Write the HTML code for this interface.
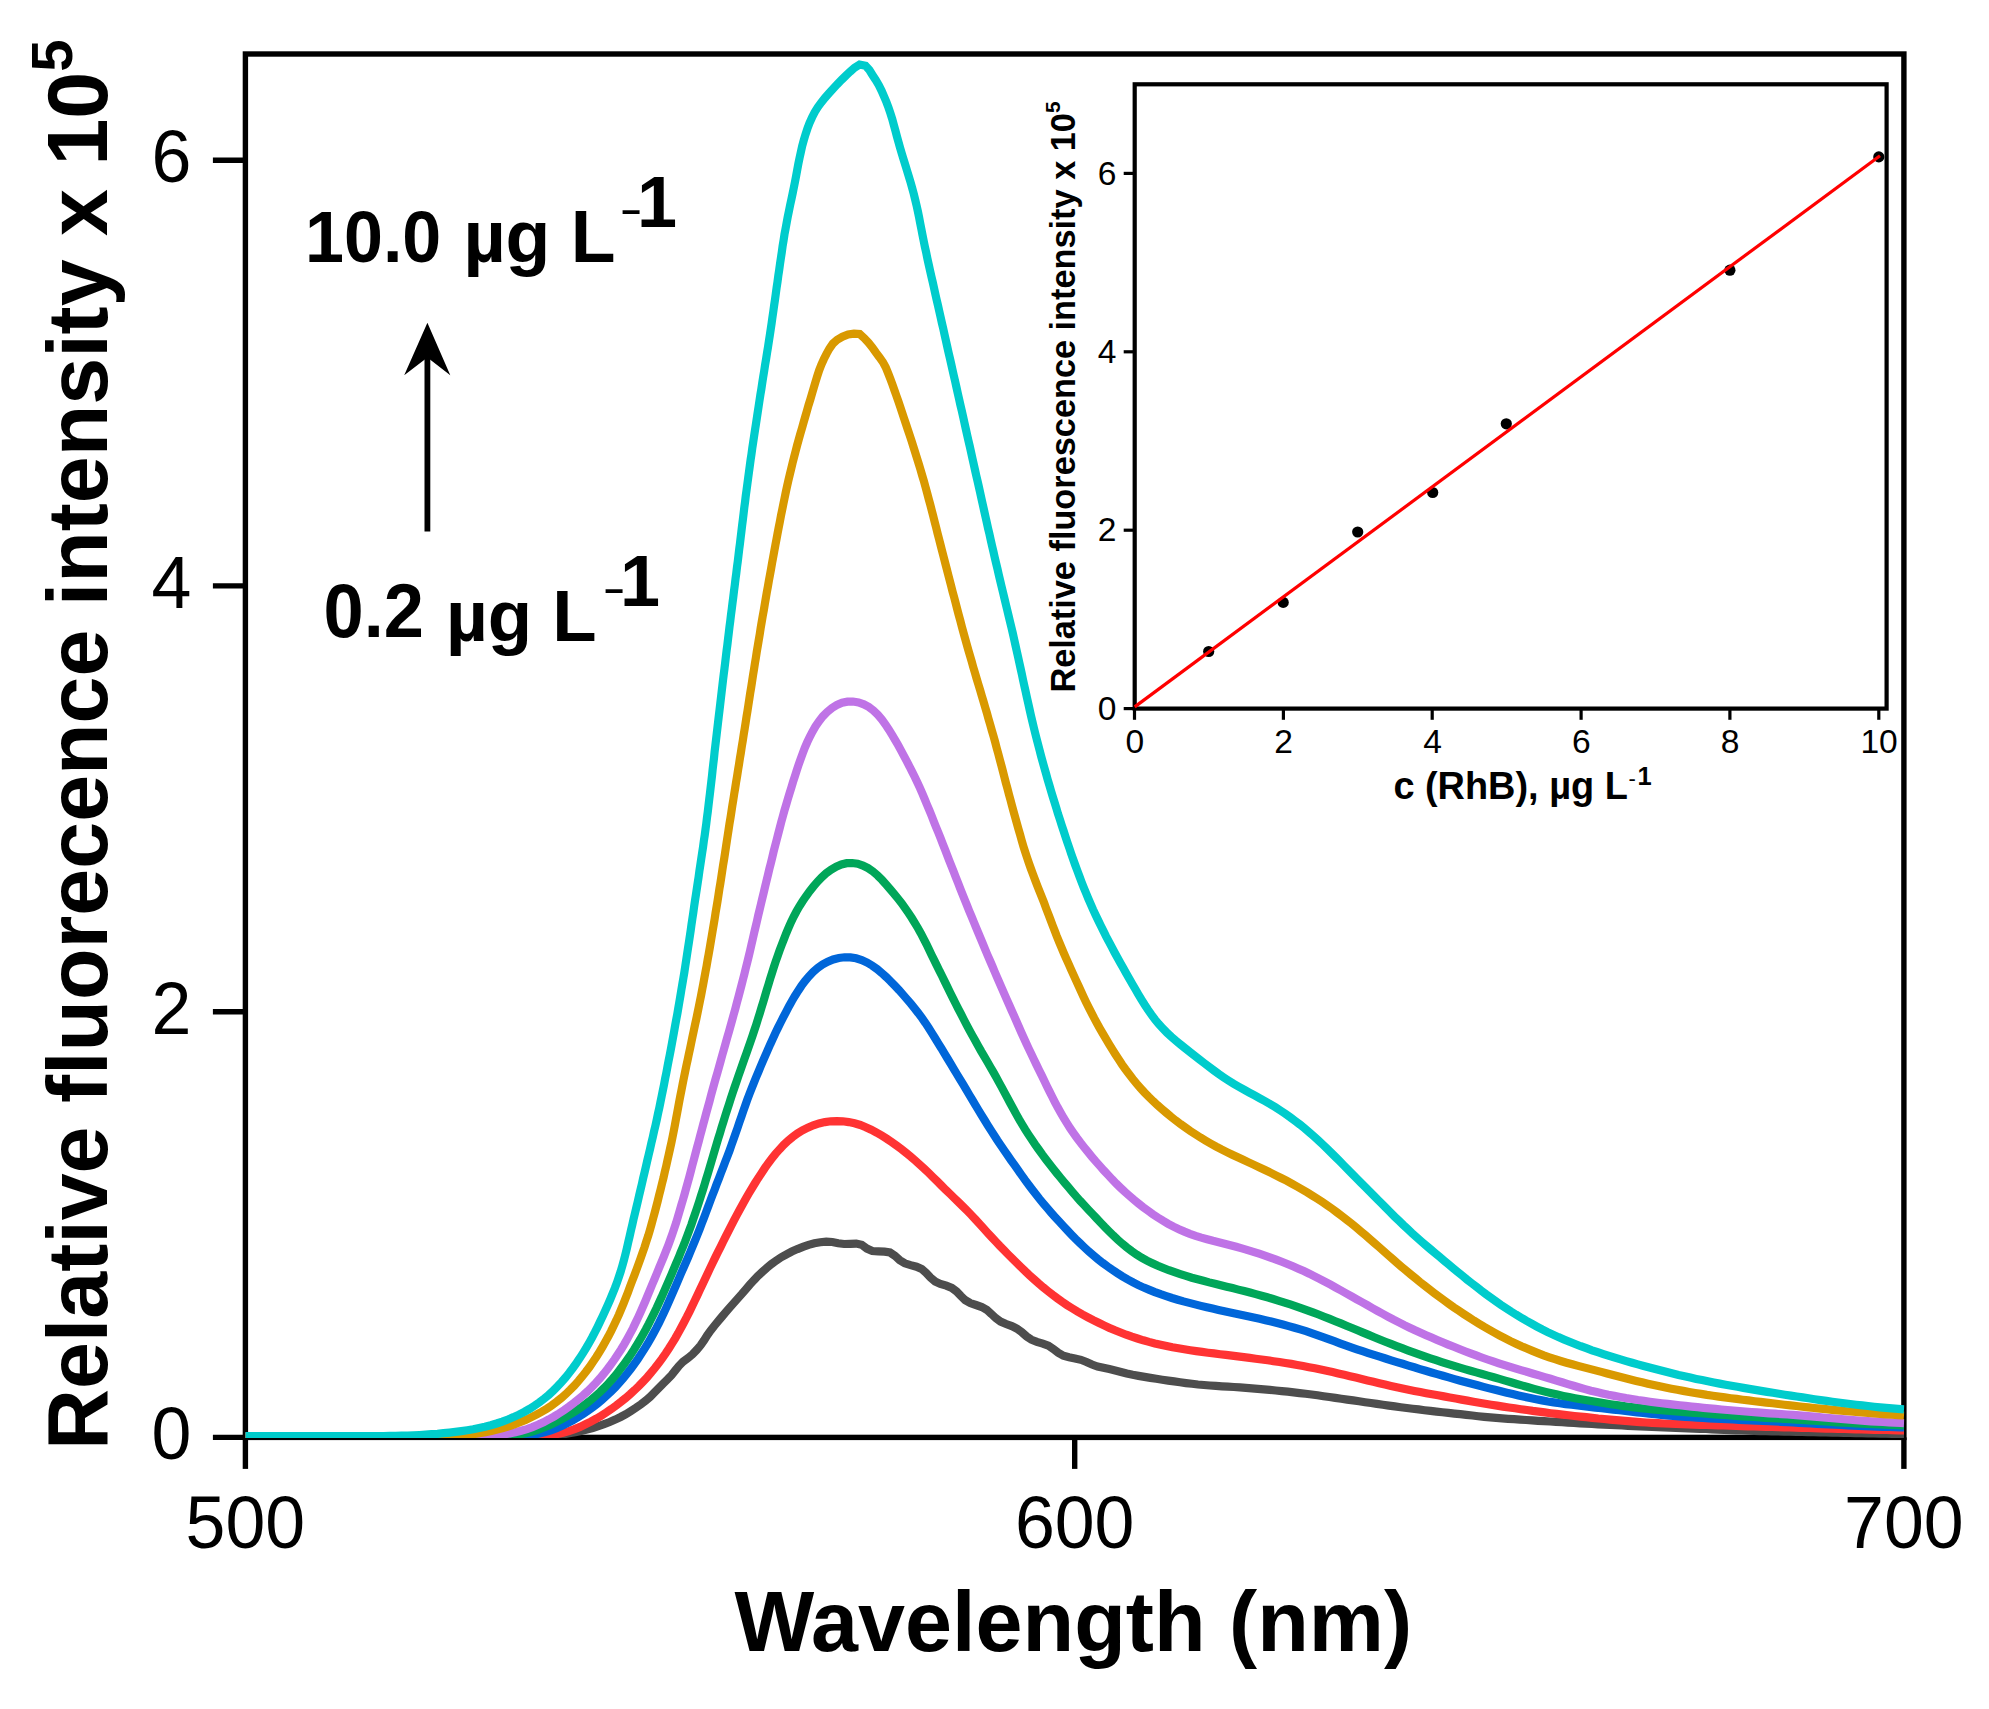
<!DOCTYPE html>
<html lang="en"><head><meta charset="utf-8"><title>Fluorescence spectra of RhB</title>
<style>
html,body{margin:0;padding:0;background:#fff;}
body{width:1989px;height:1709px;overflow:hidden;}
svg{display:block;}
text{font-family:"Liberation Sans", Arial, Helvetica, sans-serif;fill:#000;}
.b{font-weight:700;}
.c{fill:none;stroke-width:8.2;stroke-linejoin:miter;stroke-miterlimit:3;stroke-linecap:butt;}
.ax{stroke:#000;fill:none;}
</style></head><body>
<svg width="1989" height="1709" viewBox="0 0 1989 1709">
<rect width="1989" height="1709" fill="#fff"/>
<g class="ax" stroke-width="5.4">
<rect x="245.4" y="54.0" width="1658.5" height="1383.4"/>
<line x1="212.9" y1="1437.4" x2="245.4" y2="1437.4"/>
<line x1="212.9" y1="1011.7" x2="245.4" y2="1011.7"/>
<line x1="212.9" y1="585.9" x2="245.4" y2="585.9"/>
<line x1="212.9" y1="160.2" x2="245.4" y2="160.2"/>
<line x1="245.4" y1="1437.4" x2="245.4" y2="1468.9"/>
<line x1="1074.7" y1="1437.4" x2="1074.7" y2="1468.9"/>
<line x1="1903.9" y1="1437.4" x2="1903.9" y2="1468.9"/>
</g>
<clipPath id="pc"><rect x="245.4" y="54.0" width="1659.1" height="1384.0"/></clipPath>
<g clip-path="url(#pc)">
<path class="c" stroke="#4d4d4d" d="M245.4 1436.8L251.5 1436.8L257.5 1436.8L263.6 1436.8L269.6 1436.8L275.6 1436.8L281.7 1436.8L287.7 1436.8L293.8 1436.8L299.8 1436.8L305.8 1436.8L311.9 1436.8L317.9 1436.8L323.9 1436.8L329.9 1436.8L335.9 1436.8L342 1436.8L348 1436.8L354 1436.8L360 1436.8L366 1436.8L372 1436.8L378 1436.8L384 1436.8L390 1436.8L396 1436.8L402 1436.8L408 1436.8L414 1436.8L420 1436.8L426 1436.8L432 1436.8L438 1436.8L444 1436.8L450 1436.8L455.9 1436.8L461.9 1436.8L467.9 1436.8L473.9 1436.8L479.9 1436.8L485.8 1436.8L491.8 1436.8L497.8 1436.8L503.8 1436.8L509.7 1436.8L515.7 1436.8L521.7 1436.8L527.6 1436.8L533.6 1436.8L539.6 1436.8L545.6 1436.8L551.5 1436.4L557.5 1435.4L563.4 1434.3L569.3 1433.3L575.2 1432.2L581.1 1431L586.9 1429.6L592.7 1428L598.4 1426.1L604.1 1424.1L609.7 1422L615.2 1419.6L620.6 1417L625.9 1414.2L631 1411L636.1 1407.7L641 1404.3L645.8 1400.6L650.3 1396.7L654.5 1392.4L658.7 1388.1L662.9 1383.8L667.2 1379.6L671.4 1375.3L675.1 1370.6L678.9 1365.9L683.1 1361.7L688 1358.1L692.5 1354.3L696.7 1349.9L700.6 1345.3L704 1340.4L707.2 1335.3L710.7 1330.4L714.4 1325.7L718.2 1321.1L722.1 1316.5L726 1311.9L729.9 1307.4L733.9 1302.9L737.9 1298.4L741.9 1293.9L745.8 1289.3L749.7 1284.8L753.8 1280.3L757.9 1276L762.3 1271.9L766.8 1267.9L771.4 1264.1L776.3 1260.5L781.3 1257.2L786.5 1254.3L791.8 1251.5L797.4 1249.1L802.9 1246.9L808.6 1244.9L814.4 1243.3L820.3 1242.3L826.3 1241.6L832.3 1242L838.2 1243.3L844.1 1244L850.2 1243.8L856.2 1243.6L861.7 1244.8L866.9 1248.6L872.3 1251L878.3 1251.4L884.5 1251.7L890 1252.5L894.9 1255.8L899.7 1260.1L904.8 1263.3L910.6 1265.1L916.5 1266.7L921.7 1269L926.2 1273L930.5 1277.6L935.1 1281.5L940.4 1283.9L946.3 1285.7L951.8 1287.9L956.5 1291.4L960.8 1295.9L965.2 1300.1L970.2 1303.1L976 1305L981.8 1307L986.8 1309.8L991.3 1313.9L995.8 1318.2L1000.6 1321.6L1006.1 1324L1011.8 1326.1L1017.1 1328.7L1021.9 1332.3L1026.6 1336.4L1031.4 1339.7L1036.9 1341.9L1042.8 1343.6L1048.4 1345.7L1053.4 1349L1058.3 1352.8L1063.4 1355.8L1069 1357.3L1075 1358.4L1080.9 1359.8L1086.5 1362L1092 1364.5L1097.6 1366.5L1103.4 1367.8L1109.3 1369.1L1115.2 1370.5L1121 1372L1126.8 1373.5L1132.7 1374.8L1138.6 1375.9L1144.5 1376.9L1150.4 1377.9L1156.3 1378.8L1162.3 1379.7L1168.2 1380.6L1174.2 1381.4L1180.1 1382.3L1186 1383.1L1192 1383.8L1198 1384.5L1203.9 1385L1209.9 1385.5L1215.9 1385.9L1221.9 1386.3L1227.9 1386.6L1233.9 1387L1239.9 1387.4L1245.9 1387.8L1251.9 1388.3L1257.8 1388.8L1263.8 1389.3L1269.8 1389.9L1275.8 1390.5L1281.7 1391.1L1287.7 1391.7L1293.7 1392.4L1299.6 1393.1L1305.6 1393.8L1311.6 1394.5L1317.5 1395.3L1323.5 1396.2L1329.4 1397L1335.3 1397.9L1341.3 1398.8L1347.2 1399.6L1353.2 1400.4L1359.1 1401.3L1365.1 1402.2L1371 1403L1376.9 1403.9L1382.9 1404.7L1388.8 1405.6L1394.8 1406.4L1400.7 1407.2L1406.7 1408L1412.6 1408.7L1418.6 1409.4L1424.5 1410.2L1430.5 1410.9L1436.5 1411.6L1442.4 1412.3L1448.4 1412.9L1454.4 1413.6L1460.3 1414.2L1466.3 1414.9L1472.3 1415.5L1478.2 1416.2L1484.2 1416.8L1490.2 1417.4L1496.2 1417.9L1502.1 1418.4L1508.1 1418.8L1514.1 1419.2L1520.1 1419.6L1526.1 1420L1532.1 1420.4L1538.1 1420.8L1544.1 1421.1L1550.1 1421.5L1556.1 1421.9L1562.1 1422.2L1568 1422.6L1574 1423L1580 1423.3L1586 1423.6L1592 1424L1598 1424.3L1604 1424.6L1610 1424.9L1616 1425.2L1622 1425.5L1628 1425.8L1634 1426.1L1640 1426.4L1646 1426.6L1652 1426.9L1658 1427.1L1664 1427.4L1670 1427.6L1676 1427.9L1682 1428.1L1688 1428.3L1694 1428.6L1700 1428.8L1706 1429L1712 1429.3L1718 1429.6L1724 1429.8L1730 1430.1L1736 1430.3L1742 1430.5L1748 1430.7L1754 1430.9L1760 1431.1L1766 1431.2L1772 1431.3L1778 1431.4L1784 1431.6L1790 1431.7L1796 1431.8L1802 1431.9L1808 1432.1L1814 1432.2L1820 1432.3L1826 1432.5L1832 1432.6L1838 1432.7L1844 1432.9L1850 1433L1856 1433.1L1862 1433.2L1868 1433.4L1874 1433.5L1880 1433.6L1886 1433.7L1892 1433.8L1898 1433.9L1904 1434"/>
<path class="c" stroke="#ff3333" d="M245.4 1436.5L251.5 1436.5L257.5 1436.5L263.6 1436.5L269.6 1436.5L275.7 1436.5L281.7 1436.5L287.8 1436.5L293.8 1436.5L299.8 1436.5L305.9 1436.5L311.9 1436.5L317.9 1436.5L324 1436.5L330 1436.5L336 1436.5L342 1436.5L348 1436.5L354 1436.5L360 1436.5L366.1 1436.5L372.1 1436.5L378.1 1436.5L384.1 1436.5L390.1 1436.5L396.1 1436.5L402.1 1436.5L408 1436.5L414 1436.5L420 1436.5L426 1436.5L432 1436.5L438 1436.5L444 1436.5L449.9 1436.5L455.9 1436.5L461.9 1436.5L467.9 1436.5L473.8 1436.5L479.8 1436.5L485.8 1436.5L491.7 1436.5L497.7 1436.5L503.7 1436.6L509.6 1436.7L515.6 1436.7L521.6 1436.8L527.6 1436.7L533.5 1436.6L539.5 1436.3L545.5 1435.7L551.4 1435L557.3 1434L563.1 1432.7L568.9 1431.1L574.5 1429.1L580.1 1426.9L585.5 1424.3L590.9 1421.6L596.2 1418.7L601.3 1415.7L606.4 1412.4L611.4 1409L616.2 1405.5L621 1401.8L625.7 1398L630.2 1394.1L634.6 1390.1L639 1385.9L643.1 1381.6L647.2 1377.2L651.1 1372.6L654.9 1368L658.6 1363.2L662.2 1358.4L665.6 1353.5L668.9 1348.5L672.1 1343.4L675.2 1338.3L678.2 1333.1L681.1 1327.8L683.9 1322.5L686.7 1317.2L689.4 1311.8L692 1306.4L694.6 1301L697.2 1295.6L699.8 1290.1L702.3 1284.7L704.9 1279.3L707.5 1273.8L710 1268.4L712.6 1263L715.2 1257.6L717.9 1252.2L720.6 1246.8L723.2 1241.5L725.9 1236.1L728.6 1230.8L731.4 1225.4L734.1 1220.1L736.9 1214.8L739.8 1209.5L742.7 1204.2L745.6 1199L748.6 1193.8L751.7 1188.6L754.8 1183.5L758 1178.4L761.3 1173.4L764.6 1168.4L768.1 1163.4L771.8 1158.6L775.5 1153.9L779.5 1149.4L783.6 1145L788 1140.8L792.6 1137L797.4 1133.4L802.5 1130.3L807.8 1127.6L813.3 1125.3L819 1123.4L824.9 1122.1L830.8 1121.3L836.8 1121.1L842.8 1121.3L848.7 1122.1L854.5 1123.3L860.3 1125L865.8 1127.2L871.2 1129.7L876.5 1132.5L881.7 1135.6L886.8 1138.8L891.8 1142.2L896.7 1145.7L901.6 1149.3L906.3 1153L911 1156.8L915.5 1160.7L919.9 1164.7L924.3 1168.7L928.7 1172.9L932.9 1177.1L937.2 1181.3L941.4 1185.5L945.7 1189.8L950 1193.9L954.3 1198.1L958.6 1202.3L962.9 1206.5L967.1 1210.7L971.3 1215L975.4 1219.4L979.4 1223.8L983.5 1228.3L987.5 1232.7L991.6 1237.1L995.7 1241.5L999.8 1245.9L1004 1250.2L1008.2 1254.5L1012.4 1258.7L1016.7 1262.9L1021 1267.1L1025.3 1271.3L1029.7 1275.4L1034.1 1279.4L1038.6 1283.4L1043.2 1287.3L1047.9 1291.1L1052.6 1294.8L1057.4 1298.4L1062.3 1301.9L1067.2 1305.2L1072.3 1308.4L1077.4 1311.5L1082.6 1314.5L1087.9 1317.4L1093.2 1320.2L1098.6 1322.8L1104 1325.4L1109.5 1327.9L1115 1330.3L1120.6 1332.5L1126.2 1334.7L1131.8 1336.7L1137.5 1338.5L1143.3 1340.3L1149 1341.9L1154.9 1343.4L1160.7 1344.7L1166.6 1346L1172.5 1347.2L1178.4 1348.2L1184.3 1349.2L1190.2 1350.2L1196.2 1351.1L1202.1 1351.9L1208 1352.7L1214 1353.4L1220 1354.2L1225.9 1354.9L1231.9 1355.6L1237.8 1356.4L1243.8 1357.1L1249.7 1357.9L1255.7 1358.7L1261.6 1359.5L1267.6 1360.3L1273.5 1361.2L1279.5 1362L1285.4 1363L1291.3 1363.9L1297.2 1365L1303.1 1366L1309 1367.2L1314.9 1368.3L1320.8 1369.6L1326.6 1370.8L1332.5 1372.1L1338.3 1373.5L1344.2 1374.8L1350 1376.2L1355.9 1377.6L1361.7 1379L1367.5 1380.4L1373.4 1381.8L1379.2 1383.2L1385 1384.6L1390.9 1385.9L1396.8 1387.2L1402.6 1388.5L1408.5 1389.7L1414.4 1390.9L1420.3 1392L1426.2 1393.2L1432.1 1394.3L1438 1395.3L1443.9 1396.4L1449.8 1397.5L1455.7 1398.5L1461.6 1399.6L1467.5 1400.6L1473.4 1401.7L1479.3 1402.7L1485.2 1403.7L1491.2 1404.7L1497.1 1405.6L1503 1406.6L1508.9 1407.5L1514.9 1408.3L1520.8 1409.2L1526.8 1410L1532.7 1410.9L1538.6 1411.6L1544.6 1412.4L1550.6 1413.2L1556.5 1413.9L1562.5 1414.6L1568.4 1415.3L1574.4 1416L1580.4 1416.6L1586.3 1417.2L1592.3 1417.8L1598.3 1418.5L1604.2 1419L1610.2 1419.6L1616.2 1420.2L1622.2 1420.7L1628.1 1421.2L1634.1 1421.7L1640.1 1422.1L1646.1 1422.5L1652.1 1422.9L1658.1 1423.2L1664.1 1423.5L1670.1 1423.7L1676.1 1424L1682.1 1424.2L1688.1 1424.4L1694.1 1424.6L1700.1 1424.8L1706.1 1425L1712.1 1425.2L1718 1425.4L1724 1425.5L1730 1425.7L1736 1425.9L1742 1426.1L1748 1426.3L1754 1426.4L1760 1426.6L1766 1426.8L1772 1427L1778 1427.1L1784 1427.3L1790 1427.5L1796 1427.7L1802 1427.9L1808 1428L1814 1428.2L1820 1428.4L1826 1428.6L1832 1428.7L1838 1428.9L1844 1429L1850 1429.2L1856 1429.3L1862 1429.5L1868 1429.6L1874 1429.8L1880 1429.9L1886 1430L1892 1430.2L1898 1430.3L1904 1430.4"/>
<path class="c" stroke="#0066d9" d="M245.4 1436.5L251.5 1436.5L257.5 1436.5L263.6 1436.5L269.6 1436.5L275.7 1436.5L281.7 1436.5L287.8 1436.5L293.8 1436.5L299.9 1436.5L305.9 1436.5L311.9 1436.5L318 1436.5L324 1436.5L330 1436.5L336 1436.5L342 1436.5L348.1 1436.5L354.1 1436.5L360.1 1436.5L366.1 1436.5L372.1 1436.5L378.1 1436.5L384.1 1436.5L390.1 1436.5L396.1 1436.5L402.1 1436.5L408.1 1436.5L414.1 1436.5L420 1436.5L426 1436.5L432 1436.5L438 1436.5L444 1436.5L450 1436.5L455.9 1436.5L461.9 1436.5L467.9 1436.5L473.8 1436.5L479.8 1436.5L485.8 1436.6L491.8 1436.7L497.7 1436.7L503.7 1436.8L509.7 1436.7L515.7 1436.5L521.6 1436.1L527.6 1435.5L533.5 1434.7L539.4 1433.6L545.2 1432.1L550.9 1430.4L556.5 1428.2L562 1425.8L567.4 1423.2L572.7 1420.4L577.9 1417.3L583 1414.1L588 1410.7L592.8 1407.2L597.6 1403.5L602.2 1399.6L606.7 1395.6L611 1391.5L615.2 1387.3L619.3 1382.8L623.2 1378.3L627 1373.6L630.7 1368.9L634.3 1364L637.8 1359.1L641.1 1354.1L644.3 1349.1L647.5 1344L650.5 1338.8L653.4 1333.5L656.3 1328.2L659 1322.9L661.6 1317.5L664.2 1312.1L666.7 1306.6L669.1 1301.1L671.5 1295.6L673.9 1290.1L676.3 1284.6L678.7 1279L681 1273.5L683.4 1268L685.8 1262.5L688.2 1257L690.5 1251.5L692.8 1245.9L695.1 1240.4L697.4 1234.8L699.6 1229.2L701.7 1223.6L703.9 1218L706 1212.4L708.1 1206.8L710.2 1201.1L712.3 1195.5L714.5 1189.9L716.6 1184.3L718.8 1178.7L720.9 1173.1L723.1 1167.5L725.2 1161.9L727.4 1156.3L729.5 1150.7L731.5 1145L733.5 1139.4L735.5 1133.7L737.5 1128L739.4 1122.3L741.4 1116.7L743.3 1111L745.3 1105.3L747.3 1099.7L749.4 1094.1L751.6 1088.5L753.8 1082.9L756.1 1077.3L758.4 1071.8L760.7 1066.2L763.1 1060.7L765.5 1055.2L767.9 1049.7L770.3 1044.2L772.8 1038.8L775.3 1033.3L777.9 1027.9L780.6 1022.5L783.3 1017.2L786.1 1011.8L788.9 1006.4L791.8 1001.2L794.9 996L798.1 990.9L801.4 985.9L805 981L808.9 976.4L813.1 972L817.7 968L822.6 964.5L827.8 961.6L833.2 959.4L838.8 958L844.6 957.3L850.4 957.4L856.1 958.3L861.7 960L867.1 962.5L872.2 965.6L877.1 969.1L881.8 973L886.3 977.1L890.6 981.3L894.8 985.7L899 990.1L903 994.6L906.9 999.1L910.8 1003.7L914.6 1008.4L918.3 1013.1L921.9 1017.9L925.3 1022.8L928.6 1027.8L931.8 1032.9L935 1038L938.1 1043.1L941.3 1048.2L944.4 1053.4L947.5 1058.5L950.6 1063.7L953.7 1068.8L956.8 1074L959.9 1079.1L963 1084.2L966.1 1089.4L969.1 1094.5L972.2 1099.7L975.3 1104.8L978.4 1110L981.5 1115.1L984.7 1120.2L987.8 1125.3L991 1130.4L994.3 1135.5L997.5 1140.5L1000.9 1145.5L1004.3 1150.5L1007.7 1155.4L1011.1 1160.3L1014.6 1165.2L1018.1 1170.1L1021.5 1175L1025 1179.9L1028.6 1184.7L1032.2 1189.5L1035.9 1194.3L1039.6 1199L1043.4 1203.6L1047.3 1208.2L1051.2 1212.7L1055.2 1217.2L1059.2 1221.6L1063.3 1226L1067.4 1230.4L1071.6 1234.8L1075.8 1239.1L1080.1 1243.3L1084.4 1247.4L1088.8 1251.5L1093.4 1255.4L1098 1259.2L1102.7 1262.9L1107.6 1266.5L1112.5 1269.9L1117.5 1273.2L1122.6 1276.4L1127.8 1279.5L1133.1 1282.4L1138.4 1285.1L1143.8 1287.6L1149.4 1289.9L1154.9 1292.1L1160.6 1294.2L1166.3 1296.1L1172 1298L1177.7 1299.7L1183.5 1301.4L1189.3 1302.9L1195.1 1304.4L1200.9 1305.9L1206.8 1307.3L1212.6 1308.6L1218.5 1309.9L1224.4 1311.2L1230.2 1312.4L1236.1 1313.7L1242 1314.9L1247.9 1316.2L1253.7 1317.5L1259.6 1318.8L1265.5 1320.2L1271.3 1321.6L1277.1 1323L1282.9 1324.5L1288.7 1326.1L1294.5 1327.7L1300.2 1329.4L1306 1331.2L1311.6 1333.1L1317.3 1335.1L1323 1337.1L1328.6 1339.2L1334.3 1341.2L1339.9 1343.3L1345.6 1345.3L1351.2 1347.3L1356.9 1349.3L1362.6 1351.2L1368.3 1353.1L1374 1354.9L1379.7 1356.7L1385.5 1358.5L1391.2 1360.3L1396.9 1362.1L1402.7 1363.8L1408.4 1365.6L1414.2 1367.3L1419.9 1369.1L1425.7 1370.8L1431.4 1372.5L1437.2 1374.1L1443 1375.8L1448.7 1377.4L1454.5 1379.1L1460.3 1380.7L1466.1 1382.3L1471.9 1383.8L1477.7 1385.3L1483.5 1386.9L1489.3 1388.4L1495.1 1389.8L1501 1391.3L1506.8 1392.7L1512.7 1394.1L1518.5 1395.5L1524.4 1396.8L1530.2 1398.1L1536.1 1399.3L1542 1400.4L1547.9 1401.5L1553.8 1402.4L1559.8 1403.3L1565.7 1404.1L1571.7 1404.8L1577.6 1405.5L1583.6 1406.2L1589.6 1406.9L1595.5 1407.6L1601.5 1408.2L1607.5 1408.9L1613.4 1409.6L1619.4 1410.3L1625.4 1411L1631.3 1411.7L1637.3 1412.4L1643.3 1413L1649.2 1413.6L1655.2 1414.2L1661.2 1414.8L1667.2 1415.3L1673.2 1415.8L1679.1 1416.3L1685.1 1416.8L1691.1 1417.2L1697.1 1417.6L1703.1 1418L1709.1 1418.3L1715.1 1418.6L1721.1 1418.9L1727.1 1419.2L1733.1 1419.5L1739.1 1419.8L1745.1 1420.1L1751.1 1420.4L1757.1 1420.7L1763.1 1420.9L1769.1 1421.2L1775.1 1421.5L1781.1 1421.8L1787.1 1422.1L1793 1422.5L1799 1422.8L1805 1423.1L1811 1423.4L1817 1423.8L1823 1424.1L1829 1424.4L1835 1424.7L1841 1425L1847 1425.3L1853 1425.6L1859 1425.9L1865 1426.1L1871 1426.4L1877 1426.6L1883 1426.8L1889 1427L1895 1427.2L1901 1427.4L1904 1427.5"/>
<path class="c" stroke="#00a659" d="M245.4 1436.5L251.4 1436.5L257.5 1436.5L263.5 1436.5L269.6 1436.5L275.6 1436.5L281.6 1436.5L287.7 1436.5L293.7 1436.5L299.7 1436.5L305.7 1436.5L311.8 1436.5L317.8 1436.5L323.8 1436.5L329.8 1436.5L335.8 1436.5L341.8 1436.5L347.8 1436.5L353.8 1436.5L359.9 1436.5L365.9 1436.5L371.9 1436.5L377.9 1436.5L383.9 1436.5L389.9 1436.5L395.9 1436.5L401.9 1436.5L407.9 1436.5L413.8 1436.5L419.8 1436.5L425.8 1436.5L431.8 1436.5L437.8 1436.5L443.8 1436.5L449.8 1436.5L455.8 1436.5L461.7 1436.5L467.7 1436.6L473.7 1436.7L479.7 1436.7L485.7 1436.7L491.7 1436.6L497.7 1436.5L503.7 1436.2L509.7 1435.7L515.6 1435L521.5 1434L527.4 1432.8L533.2 1431.3L538.9 1429.4L544.5 1427.3L550 1425L555.5 1422.4L560.8 1419.7L566.1 1416.8L571.3 1413.7L576.4 1410.5L581.4 1407.1L586.2 1403.6L591 1399.9L595.5 1396L600 1392L604.3 1387.8L608.4 1383.5L612.4 1379L616.3 1374.4L620 1369.6L623.6 1364.8L627.1 1359.9L630.5 1355L633.8 1349.9L636.9 1344.8L640 1339.7L643 1334.4L645.9 1329.2L648.7 1323.9L651.4 1318.5L654.1 1313.1L656.7 1307.7L659.2 1302.2L661.7 1296.8L664.1 1291.3L666.5 1285.8L668.9 1280.3L671.3 1274.8L673.7 1269.2L676 1263.7L678.4 1258.2L680.6 1252.6L682.9 1247L685.1 1241.5L687.2 1235.8L689.3 1230.2L691.4 1224.6L693.3 1218.9L695.3 1213.2L697.2 1207.5L699.1 1201.8L700.9 1196.1L702.7 1190.4L704.5 1184.6L706.2 1178.9L708 1173.1L709.7 1167.4L711.4 1161.6L713.1 1155.9L714.8 1150.1L716.5 1144.4L718.2 1138.6L720 1132.9L721.7 1127.1L723.5 1121.4L725.3 1115.6L727.1 1109.9L729 1104.2L730.8 1098.5L732.7 1092.8L734.6 1087.1L736.6 1081.4L738.5 1075.7L740.5 1070.1L742.5 1064.4L744.5 1058.7L746.5 1053.1L748.5 1047.4L750.5 1041.7L752.4 1036.1L754.3 1030.4L756.2 1024.7L758 1018.9L759.8 1013.2L761.5 1007.5L763.3 1001.7L765 996L766.7 990.2L768.5 984.4L770.2 978.7L772 973L773.8 967.2L775.7 961.5L777.7 955.9L779.7 950.2L781.8 944.6L784 938.9L786.2 933.3L788.6 927.7L791 922.2L793.6 916.8L796.4 911.5L799.4 906.3L802.6 901.3L806 896.3L809.5 891.4L813.3 886.6L817.3 881.9L821.6 877.4L826.2 873.2L831.1 869.6L836.2 866.6L841.4 864.5L846.7 863.2L852.2 863L857.6 863.7L862.9 865.5L868 868.1L872.9 871.5L877.6 875.5L882 879.9L886.1 884.5L890.2 889.2L894.1 893.8L897.9 898.5L901.6 903.2L905.1 908.1L908.5 913L911.8 918L914.9 923.1L918 928.2L920.9 933.4L923.7 938.8L926.4 944.1L929 949.6L931.6 955L934.3 960.4L937 965.8L939.6 971.2L942.3 976.5L944.9 981.9L947.6 987.3L950.2 992.7L952.9 998.1L955.6 1003.5L958.3 1008.8L961.1 1014.2L963.8 1019.5L966.6 1024.8L969.4 1030.1L972.3 1035.4L975.2 1040.6L978.2 1045.9L981.1 1051.1L984.2 1056.3L987.2 1061.5L990.2 1066.7L993.2 1071.9L996.1 1077.1L999 1082.4L1001.9 1087.6L1004.7 1092.9L1007.6 1098.2L1010.4 1103.5L1013.3 1108.8L1016.2 1114.1L1019.1 1119.3L1022.2 1124.5L1025.3 1129.6L1028.5 1134.6L1031.8 1139.6L1035.2 1144.6L1038.7 1149.5L1042.2 1154.4L1045.8 1159.2L1049.5 1164L1053.2 1168.7L1056.9 1173.4L1060.7 1178L1064.5 1182.6L1068.4 1187.2L1072.3 1191.8L1076.2 1196.4L1080.2 1200.9L1084.3 1205.3L1088.4 1209.7L1092.5 1214L1096.6 1218.4L1100.7 1222.8L1104.9 1227.2L1109.1 1231.4L1113.4 1235.6L1117.8 1239.7L1122.3 1243.7L1126.9 1247.5L1131.7 1251.1L1136.6 1254.5L1141.6 1257.7L1146.9 1260.6L1152.3 1263.2L1157.8 1265.7L1163.3 1268L1168.9 1270.2L1174.6 1272.2L1180.3 1274.1L1186 1275.9L1191.8 1277.7L1197.6 1279.3L1203.4 1280.8L1209.2 1282.4L1215 1283.8L1220.8 1285.3L1226.7 1286.7L1232.5 1288.1L1238.3 1289.6L1244.2 1291L1250 1292.5L1255.8 1294.1L1261.6 1295.7L1267.3 1297.3L1273.1 1299L1278.9 1300.8L1284.6 1302.6L1290.3 1304.4L1296 1306.3L1301.7 1308.3L1307.3 1310.3L1312.9 1312.4L1318.6 1314.5L1324.1 1316.7L1329.7 1318.9L1335.3 1321.2L1340.9 1323.4L1346.4 1325.7L1352 1328L1357.5 1330.3L1363.1 1332.6L1368.6 1334.9L1374.2 1337.2L1379.7 1339.5L1385.3 1341.7L1390.9 1343.9L1396.5 1346.1L1402.1 1348.2L1407.7 1350.3L1413.4 1352.4L1419 1354.4L1424.7 1356.4L1430.4 1358.3L1436.1 1360.2L1441.8 1362.1L1447.5 1363.9L1453.3 1365.7L1459 1367.4L1464.8 1369.1L1470.5 1370.7L1476.3 1372.4L1482.1 1374L1487.9 1375.6L1493.7 1377.3L1499.4 1378.9L1505.2 1380.6L1511 1382.3L1516.7 1384L1522.5 1385.6L1528.3 1387.3L1534.1 1388.9L1539.9 1390.4L1545.7 1391.9L1551.5 1393.3L1557.4 1394.6L1563.3 1395.9L1569.1 1397.1L1575 1398.2L1580.9 1399.3L1586.9 1400.3L1592.8 1401.3L1598.7 1402.3L1604.7 1403.3L1610.6 1404.2L1616.5 1405L1622.5 1405.9L1628.4 1406.7L1634.4 1407.4L1640.4 1408.1L1646.3 1408.8L1652.3 1409.4L1658.3 1410L1664.3 1410.5L1670.2 1411L1676.2 1411.5L1682.2 1411.9L1688.2 1412.4L1694.2 1412.8L1700.2 1413.2L1706.2 1413.7L1712.2 1414.1L1718.2 1414.6L1724.1 1415L1730.1 1415.4L1736.1 1415.9L1742.1 1416.3L1748.1 1416.7L1754.1 1417L1760.1 1417.4L1766.1 1417.8L1772.1 1418.1L1778.1 1418.5L1784.1 1418.9L1790.1 1419.2L1796.1 1419.6L1802.1 1420L1808.1 1420.3L1814 1420.7L1820 1421.1L1826 1421.5L1832 1421.9L1838 1422.3L1844 1422.6L1850 1423L1856 1423.3L1862 1423.6L1868 1423.9L1874 1424.2L1880 1424.5L1886 1424.7L1892 1425L1898 1425.2L1904 1425.4"/>
<path class="c" stroke="#bf73e6" d="M245.4 1436.5L251.4 1436.5L257.5 1436.5L263.5 1436.5L269.5 1436.5L275.5 1436.5L281.5 1436.5L287.6 1436.5L293.6 1436.5L299.6 1436.5L305.6 1436.5L311.6 1436.5L317.6 1436.5L323.6 1436.5L329.6 1436.5L335.6 1436.5L341.6 1436.5L347.7 1436.5L353.7 1436.5L359.7 1436.5L365.7 1436.5L371.7 1436.5L377.7 1436.5L383.6 1436.5L389.6 1436.5L395.6 1436.5L401.6 1436.5L407.6 1436.5L413.6 1436.5L419.6 1436.5L425.6 1436.5L431.6 1436.5L437.6 1436.5L443.6 1436.5L449.5 1436.6L455.5 1436.6L461.5 1436.7L467.5 1436.6L473.5 1436.5L479.5 1436.4L485.5 1436.1L491.5 1435.7L497.5 1435.1L503.5 1434.4L509.4 1433.5L515.3 1432.3L521.1 1430.8L526.8 1429.1L532.4 1427.1L537.9 1424.8L543.4 1422.3L548.7 1419.5L553.9 1416.6L559.1 1413.4L564.1 1410.1L569 1406.6L573.8 1403L578.5 1399.2L583.1 1395.4L587.5 1391.4L591.8 1387.2L596 1382.8L600 1378.3L603.8 1373.7L607.5 1369L611.1 1364.2L614.6 1359.3L617.9 1354.3L621.2 1349.2L624.3 1344.1L627.2 1338.9L630.1 1333.6L632.9 1328.3L635.5 1322.9L638.1 1317.5L640.6 1312L643 1306.5L645.4 1301L647.7 1295.4L650 1289.9L652.3 1284.3L654.6 1278.8L656.9 1273.2L659.2 1267.7L661.5 1262.2L663.8 1256.6L666 1251L668.2 1245.4L670.3 1239.8L672.3 1234.2L674.2 1228.5L676.1 1222.8L677.8 1217.1L679.5 1211.3L681.2 1205.5L682.9 1199.8L684.6 1194L686.2 1188.2L687.8 1182.4L689.4 1176.6L690.9 1170.9L692.4 1165L694 1159.2L695.5 1153.4L697 1147.6L698.6 1141.8L700.1 1136L701.7 1130.2L703.2 1124.4L704.8 1118.6L706.3 1112.9L707.9 1107.1L709.5 1101.3L711 1095.5L712.6 1089.7L714.2 1083.9L715.8 1078.1L717.5 1072.3L719.1 1066.6L720.7 1060.8L722.3 1055L724 1049.2L725.6 1043.4L727.2 1037.7L728.9 1031.9L730.5 1026.1L732.1 1020.3L733.7 1014.5L735.3 1008.8L736.8 1003L738.4 997.2L739.9 991.4L741.4 985.6L742.9 979.8L744.4 973.9L745.8 968.1L747.3 962.3L748.7 956.5L750.1 950.6L751.4 944.8L752.8 938.9L754.1 933.1L755.5 927.2L756.9 921.4L758.2 915.5L759.6 909.7L761 903.9L762.4 898L763.8 892.2L765.2 886.3L766.6 880.5L768 874.7L769.4 868.8L770.9 863L772.3 857.2L773.7 851.3L775.2 845.5L776.7 839.7L778.2 833.9L779.7 828.1L781.2 822.3L782.8 816.5L784.4 810.7L786.1 805L787.8 799.2L789.5 793.5L791.3 787.7L793 782L794.9 776.2L796.7 770.5L798.6 764.8L800.6 759.1L802.7 753.4L804.8 747.8L807.2 742.3L809.8 736.8L812.6 731.4L815.6 726.2L819.1 721.1L822.9 716.3L827.2 711.9L831.9 708L836.9 705L842.1 702.8L847.5 701.7L853 701.5L858.5 702.4L863.8 704.3L868.8 707L873.5 710.6L877.9 714.9L881.9 719.6L885.5 724.5L888.9 729.7L892.1 734.9L895.2 740.1L898.2 745.3L901.1 750.6L903.9 755.9L906.7 761.2L909.5 766.5L912.2 771.9L914.9 777.2L917.5 782.7L920 788.1L922.4 793.6L924.7 799.1L927 804.7L929.3 810.2L931.6 815.8L933.8 821.4L936 826.9L938.3 832.5L940.5 838.1L942.7 843.7L944.9 849.3L947 854.8L949.2 860.4L951.4 866L953.6 871.6L955.8 877.2L958 882.8L960.2 888.4L962.4 894L964.6 899.5L966.9 905.1L969.1 910.7L971.4 916.2L973.7 921.8L976 927.3L978.3 932.9L980.6 938.4L982.9 943.9L985.2 949.5L987.5 955L989.9 960.5L992.3 966L994.6 971.5L997 977.1L999.4 982.6L1001.8 988.1L1004.2 993.6L1006.6 999.1L1009 1004.5L1011.4 1010L1013.9 1015.5L1016.3 1021L1018.7 1026.5L1021.1 1032L1023.6 1037.5L1026.1 1043L1028.6 1048.4L1031.2 1053.8L1033.8 1059.2L1036.4 1064.6L1039 1070L1041.7 1075.4L1044.3 1080.8L1046.9 1086.2L1049.6 1091.6L1052.3 1097L1055 1102.3L1057.8 1107.6L1060.7 1112.8L1063.7 1118L1066.9 1123.1L1070.1 1128.2L1073.5 1133.1L1077 1138L1080.6 1142.8L1084.3 1147.5L1088.1 1152.2L1091.9 1156.8L1095.8 1161.4L1099.8 1165.9L1103.8 1170.4L1107.9 1174.8L1112 1179.2L1116.2 1183.5L1120.5 1187.7L1124.8 1191.8L1129.3 1195.8L1133.8 1199.7L1138.5 1203.5L1143.2 1207.2L1148.1 1210.8L1153 1214.3L1158 1217.6L1163.1 1220.8L1168.2 1223.8L1173.5 1226.6L1178.9 1229.2L1184.4 1231.6L1189.9 1233.8L1195.6 1235.8L1201.3 1237.6L1207.1 1239.2L1212.9 1240.8L1218.7 1242.2L1224.6 1243.7L1230.4 1245.2L1236.2 1246.8L1241.9 1248.4L1247.7 1250.1L1253.4 1251.8L1259.2 1253.7L1264.9 1255.6L1270.5 1257.6L1276.2 1259.6L1281.8 1261.8L1287.4 1264L1292.9 1266.3L1298.4 1268.7L1303.8 1271.1L1309.3 1273.7L1314.6 1276.4L1320 1279.1L1325.3 1281.9L1330.6 1284.7L1335.8 1287.6L1341.1 1290.5L1346.4 1293.5L1351.6 1296.4L1356.8 1299.3L1362.1 1302.3L1367.3 1305.2L1372.6 1308.2L1377.8 1311.1L1383.1 1314L1388.3 1316.8L1393.6 1319.7L1399 1322.4L1404.3 1325.1L1409.7 1327.7L1415.1 1330.3L1420.6 1332.8L1426.1 1335.2L1431.6 1337.6L1437.1 1340L1442.6 1342.3L1448.2 1344.6L1453.8 1346.8L1459.3 1349L1464.9 1351.2L1470.6 1353.3L1476.2 1355.4L1481.8 1357.5L1487.5 1359.5L1493.2 1361.4L1498.9 1363.3L1504.6 1365.1L1510.3 1366.9L1516 1368.7L1521.8 1370.4L1527.6 1372L1533.3 1373.7L1539.1 1375.4L1544.8 1377.1L1550.6 1378.8L1556.4 1380.6L1562.1 1382.3L1567.9 1384.1L1573.6 1385.8L1579.4 1387.5L1585.1 1389.1L1590.9 1390.7L1596.7 1392.1L1602.6 1393.5L1608.4 1394.8L1614.3 1395.9L1620.2 1397L1626.1 1398.1L1632 1399L1638 1400L1643.9 1400.8L1649.9 1401.7L1655.8 1402.5L1661.8 1403.2L1667.7 1403.9L1673.7 1404.6L1679.7 1405.3L1685.6 1405.9L1691.6 1406.6L1697.6 1407.2L1703.6 1407.8L1709.5 1408.3L1715.5 1408.9L1721.5 1409.5L1727.5 1410L1733.4 1410.5L1739.4 1411L1745.4 1411.5L1751.4 1412L1757.4 1412.4L1763.4 1412.8L1769.3 1413.3L1775.3 1413.7L1781.3 1414.1L1787.3 1414.5L1793.3 1414.9L1799.3 1415.4L1805.3 1415.9L1811.2 1416.4L1817.2 1416.9L1823.2 1417.5L1829.2 1418L1835.1 1418.5L1841.1 1419L1847.1 1419.5L1853.1 1420L1859.1 1420.5L1865.1 1420.9L1871 1421.3L1877 1421.7L1883 1422L1889 1422.4L1895 1422.7L1901 1423L1904 1423.2"/>
<path class="c" stroke="#d99900" d="M245.4 1436.5L251.4 1436.5L257.4 1436.5L263.4 1436.5L269.4 1436.5L275.5 1436.5L281.5 1436.5L287.5 1436.5L293.5 1436.5L299.5 1436.5L305.5 1436.5L311.5 1436.5L317.5 1436.5L323.5 1436.5L329.5 1436.5L335.5 1436.5L341.5 1436.5L347.5 1436.5L353.5 1436.5L359.6 1436.4L365.6 1436.4L371.6 1436.4L377.6 1436.4L383.6 1436.4L389.6 1436.4L395.6 1436.4L401.6 1436.4L407.6 1436.4L413.6 1436.4L419.6 1436.4L425.6 1436.4L431.6 1436.4L437.6 1436.3L443.6 1436.2L449.6 1436L455.6 1435.7L461.6 1435.3L467.6 1434.8L473.6 1434.1L479.5 1433.3L485.4 1432.2L491.3 1431L497.1 1429.6L502.9 1428.1L508.7 1426.3L514.4 1424.4L520 1422.2L525.6 1419.9L531 1417.4L536.4 1414.7L541.7 1411.8L546.8 1408.7L551.8 1405.4L556.6 1401.8L561.3 1398L565.8 1394.1L570.1 1389.9L574.3 1385.6L578.3 1381.1L582.2 1376.5L585.9 1371.8L589.5 1367L592.9 1362L596.3 1357L599.5 1351.9L602.5 1346.8L605.5 1341.5L608.4 1336.3L611.2 1330.9L613.8 1325.5L616.4 1320.1L618.9 1314.6L621.2 1309.1L623.5 1303.6L625.7 1298L627.9 1292.4L630 1286.7L632.1 1281.1L634.3 1275.5L636.4 1269.9L638.5 1264.2L640.5 1258.6L642.5 1252.9L644.5 1247.3L646.3 1241.6L648.2 1235.8L649.9 1230.1L651.5 1224.3L653.1 1218.5L654.7 1212.7L656.2 1206.9L657.7 1201.1L659.1 1195.3L660.6 1189.4L662 1183.6L663.5 1177.8L664.8 1171.9L666.2 1166.1L667.5 1160.2L668.8 1154.4L670.1 1148.5L671.4 1142.6L672.6 1136.7L673.8 1130.8L674.9 1125L676 1119.1L677.1 1113.2L678.2 1107.3L679.3 1101.3L680.4 1095.4L681.6 1089.5L682.7 1083.7L683.9 1077.8L685.1 1071.9L686.3 1066L687.6 1060.1L688.8 1054.2L690.1 1048.4L691.3 1042.5L692.5 1036.6L693.8 1030.7L695 1024.9L696.3 1019L697.5 1013.1L698.7 1007.2L699.9 1001.3L701.1 995.4L702.2 989.5L703.3 983.7L704.4 977.8L705.5 971.8L706.6 965.9L707.6 960L708.7 954.1L709.7 948.2L710.7 942.3L711.7 936.3L712.7 930.4L713.7 924.5L714.7 918.6L715.6 912.6L716.6 906.7L717.6 900.8L718.5 894.9L719.4 888.9L720.4 883L721.3 877.1L722.2 871.1L723.1 865.2L724.1 859.3L725 853.3L725.9 847.4L726.8 841.4L727.7 835.5L728.6 829.6L729.5 823.6L730.5 817.7L731.4 811.8L732.3 805.8L733.3 799.9L734.2 794L735.2 788L736.1 782.1L737.1 776.2L738 770.3L739 764.3L739.9 758.4L740.9 752.5L741.8 746.5L742.8 740.6L743.7 734.7L744.7 728.7L745.6 722.8L746.5 716.9L747.5 710.9L748.4 705L749.3 699.1L750.2 693.1L751.2 687.2L752.1 681.3L753 675.3L754 669.4L754.9 663.5L755.9 657.6L756.8 651.6L757.8 645.7L758.8 639.8L759.8 633.9L760.7 627.9L761.7 622L762.7 616.1L763.8 610.2L764.8 604.2L765.8 598.3L766.8 592.4L767.9 586.5L768.9 580.6L770 574.7L771.1 568.8L772.1 562.9L773.2 556.9L774.3 551L775.4 545.1L776.5 539.2L777.6 533.3L778.7 527.4L779.9 521.5L781 515.6L782.2 509.7L783.4 503.8L784.6 498L785.8 492.1L787.1 486.2L788.4 480.4L789.8 474.5L791.2 468.7L792.6 462.9L794.1 457L795.6 451.2L797.1 445.4L798.7 439.6L800.3 433.8L802 428.1L803.6 422.3L805.3 416.5L807 410.7L808.6 405L810.4 399.2L812.1 393.4L813.8 387.7L815.5 381.9L817.3 376L819.2 370.2L821.4 364.5L823.9 359L826.5 353.8L829.4 348.6L832.9 343.6L837.2 339.8L842.5 336.7L848.1 334.4L854 333.6L859.7 334L864.4 338.3L868.5 342.7L872.3 347.4L875.8 352.4L879.4 357.2L882.9 362.1L885.7 367.3L888 372.9L890.2 378.5L892.3 384.1L894.3 389.8L896.3 395.5L898.3 401.1L900.2 406.8L902.1 412.5L904 418.2L905.9 423.9L907.8 429.6L909.7 435.3L911.6 441L913.4 446.8L915.2 452.5L917 458.2L918.8 464L920.5 469.7L922.2 475.5L923.9 481.2L925.5 487L927.1 492.8L928.6 498.6L930.2 504.4L931.7 510.2L933.2 516L934.7 521.9L936.2 527.7L937.6 533.5L939.1 539.3L940.6 545.1L942.1 551L943.6 556.8L945.1 562.6L946.6 568.4L948.1 574.2L949.6 580L951.1 585.8L952.6 591.7L954.2 597.5L955.7 603.3L957.2 609.1L958.7 614.9L960.3 620.7L961.8 626.5L963.4 632.3L965 638.1L966.6 643.9L968.2 649.6L969.9 655.4L971.6 661.2L973.2 667L974.9 672.7L976.6 678.5L978.3 684.2L980.1 690L981.8 695.8L983.5 701.5L985.2 707.3L986.9 713L988.5 718.8L990.2 724.6L991.8 730.4L993.5 736.1L995.1 741.9L996.6 747.7L998.2 753.5L999.7 759.3L1001.3 765.1L1002.8 770.9L1004.3 776.8L1005.8 782.6L1007.4 788.4L1008.9 794.2L1010.5 800L1012 805.8L1013.6 811.6L1015.2 817.4L1016.8 823.2L1018.4 828.9L1020.1 834.7L1021.7 840.5L1023.4 846.3L1025.2 852L1027.1 857.7L1029 863.4L1031 869L1033.1 874.7L1035.2 880.3L1037.4 885.9L1039.6 891.5L1041.8 897L1044 902.6L1046.1 908.3L1048.3 913.9L1050.4 919.5L1052.5 925.1L1054.7 930.7L1056.8 936.3L1059.1 941.9L1061.4 947.4L1063.7 952.9L1066.1 958.4L1068.6 963.9L1071 969.4L1073.5 974.9L1076 980.4L1078.5 985.8L1081 991.3L1083.5 996.7L1086.1 1002.2L1088.8 1007.6L1091.5 1012.9L1094.2 1018.2L1097.1 1023.5L1100 1028.7L1103 1033.9L1106.1 1039.1L1109.2 1044.3L1112.3 1049.4L1115.5 1054.5L1118.8 1059.6L1122.1 1064.6L1125.6 1069.5L1129.2 1074.3L1132.8 1079L1136.6 1083.6L1140.6 1088.2L1144.6 1092.6L1148.8 1096.9L1153.1 1101.1L1157.5 1105.2L1162 1109.1L1166.6 1113L1171.2 1116.9L1175.9 1120.6L1180.7 1124.2L1185.6 1127.7L1190.5 1131.1L1195.6 1134.4L1200.6 1137.6L1205.8 1140.7L1211 1143.7L1216.2 1146.6L1221.5 1149.4L1226.9 1152.1L1232.3 1154.7L1237.8 1157.3L1243.2 1159.8L1248.7 1162.4L1254.1 1164.9L1259.6 1167.4L1265 1170L1270.4 1172.6L1275.8 1175.3L1281.1 1178L1286.5 1180.7L1291.8 1183.6L1297 1186.5L1302.2 1189.5L1307.4 1192.5L1312.5 1195.7L1317.6 1198.9L1322.6 1202.2L1327.6 1205.6L1332.5 1209L1337.3 1212.6L1342.1 1216.2L1346.9 1219.9L1351.6 1223.6L1356.2 1227.4L1360.8 1231.3L1365.4 1235.2L1369.9 1239.1L1374.5 1243.1L1379 1247L1383.5 1251L1388 1255L1392.5 1258.9L1397 1262.9L1401.6 1266.8L1406.2 1270.7L1410.8 1274.5L1415.5 1278.3L1420.1 1282.1L1424.8 1285.8L1429.6 1289.5L1434.4 1293.2L1439.2 1296.8L1444 1300.3L1448.9 1303.8L1453.8 1307.3L1458.8 1310.7L1463.7 1314L1468.8 1317.3L1473.9 1320.6L1479 1323.7L1484.1 1326.8L1489.3 1329.8L1494.6 1332.8L1499.8 1335.6L1505.2 1338.4L1510.5 1341.1L1516 1343.7L1521.4 1346.2L1526.9 1348.6L1532.5 1350.9L1538 1353.1L1543.7 1355.3L1549.3 1357.3L1555 1359.2L1560.7 1361L1566.5 1362.7L1572.3 1364.3L1578.1 1365.9L1583.9 1367.4L1589.7 1368.9L1595.5 1370.4L1601.3 1371.9L1607.2 1373.5L1613 1375L1618.8 1376.5L1624.6 1378L1630.4 1379.5L1636.2 1380.9L1642.1 1382.3L1647.9 1383.7L1653.8 1385L1659.7 1386.3L1665.5 1387.5L1671.4 1388.7L1677.3 1389.8L1683.2 1390.9L1689.2 1392L1695.1 1393L1701 1393.9L1706.9 1394.9L1712.9 1395.7L1718.8 1396.6L1724.8 1397.4L1730.7 1398.2L1736.7 1398.9L1742.6 1399.7L1748.6 1400.4L1754.6 1401.2L1760.5 1401.9L1766.5 1402.6L1772.5 1403.3L1778.4 1404L1784.4 1404.7L1790.4 1405.3L1796.3 1406L1802.3 1406.7L1808.3 1407.3L1814.2 1408L1820.2 1408.6L1826.2 1409.2L1832.2 1409.8L1838.1 1410.4L1844.1 1411L1850.1 1411.5L1856.1 1412L1862.1 1412.5L1868 1413L1874 1413.5L1880 1413.9L1886 1414.3L1892 1414.7L1898 1415.1L1904 1415.5"/>
<path class="c" stroke="#00cccc" d="M245.4 1436L251.4 1436L257.4 1436L263.4 1436L269.4 1436L275.4 1436L281.4 1436L287.4 1436L293.4 1436L299.4 1436L305.5 1436L311.5 1436L317.5 1436L323.5 1436L329.5 1436L335.5 1436L341.5 1436L347.5 1436L353.5 1436L359.5 1436L365.5 1436L371.5 1436L377.5 1436L383.5 1436L389.5 1435.9L395.5 1435.8L401.5 1435.7L407.5 1435.5L413.5 1435.3L419.5 1435L425.5 1434.6L431.5 1434.2L437.5 1433.8L443.5 1433.2L449.5 1432.6L455.4 1431.9L461.4 1431.1L467.3 1430.2L473.2 1429.2L479.1 1428L485 1426.7L490.8 1425.2L496.6 1423.5L502.3 1421.6L507.9 1419.5L513.5 1417.1L518.9 1414.6L524.3 1411.9L529.5 1408.9L534.6 1405.7L539.5 1402.3L544.2 1398.6L548.8 1394.8L553.2 1390.7L557.5 1386.4L561.6 1382L565.5 1377.5L569.3 1372.8L572.9 1368L576.4 1363.1L579.8 1358.1L583 1353.1L586.2 1347.9L589.2 1342.7L592.1 1337.5L594.9 1332.2L597.6 1326.8L600.2 1321.4L602.8 1315.9L605.3 1310.5L607.8 1305L610.2 1299.5L612.5 1293.9L614.8 1288.3L616.9 1282.7L618.8 1277.1L620.7 1271.4L622.4 1265.6L624 1259.8L625.5 1254L626.9 1248.2L628.2 1242.4L629.6 1236.5L630.9 1230.6L632.3 1224.8L633.6 1218.9L635 1213.1L636.4 1207.2L637.8 1201.4L639.1 1195.6L640.5 1189.7L641.9 1183.9L643.2 1178L644.6 1172.2L646 1166.3L647.3 1160.5L648.7 1154.6L650.1 1148.8L651.4 1142.9L652.8 1137.1L654.1 1131.2L655.5 1125.4L656.8 1119.5L658 1113.6L659.3 1107.8L660.5 1101.9L661.7 1096L662.9 1090.1L664.1 1084.2L665.2 1078.3L666.4 1072.5L667.5 1066.6L668.6 1060.7L669.8 1054.8L670.9 1048.9L672 1043L673.1 1037L674.2 1031.1L675.2 1025.2L676.3 1019.3L677.4 1013.4L678.4 1007.5L679.4 1001.6L680.4 995.7L681.4 989.7L682.4 983.8L683.4 977.9L684.4 972L685.3 966L686.2 960.1L687.1 954.2L688 948.2L688.9 942.3L689.8 936.4L690.7 930.4L691.5 924.5L692.4 918.5L693.3 912.6L694.1 906.7L695 900.7L695.9 894.8L696.8 888.8L697.7 882.9L698.6 877L699.4 871L700.3 865.1L701.2 859.1L702.1 853.2L703 847.3L703.8 841.3L704.7 835.4L705.5 829.4L706.3 823.5L707 817.5L707.8 811.6L708.5 805.6L709.2 799.6L709.9 793.7L710.6 787.7L711.3 781.7L712 775.8L712.6 769.8L713.3 763.8L714 757.9L714.6 751.9L715.3 745.9L716 740L716.7 734L717.4 728L718.1 722.1L718.8 716.1L719.5 710.2L720.2 704.2L720.9 698.2L721.6 692.3L722.3 686.3L723 680.3L723.7 674.4L724.5 668.4L725.2 662.5L725.9 656.5L726.6 650.5L727.4 644.6L728.1 638.6L728.8 632.7L729.5 626.7L730.3 620.7L731 614.8L731.8 608.8L732.5 602.9L733.3 596.9L734 590.9L734.8 585L735.5 579L736.3 573.1L737 567.1L737.8 561.2L738.5 555.2L739.2 549.2L740 543.3L740.7 537.3L741.4 531.4L742.1 525.4L742.9 519.4L743.6 513.5L744.3 507.5L745.1 501.6L745.8 495.6L746.6 489.7L747.4 483.7L748.2 477.7L749 471.8L749.8 465.9L750.6 459.9L751.5 454L752.3 448L753.2 442.1L754.1 436.1L755 430.2L755.9 424.3L756.8 418.3L757.7 412.4L758.6 406.5L759.5 400.5L760.4 394.6L761.4 388.7L762.3 382.7L763.2 376.8L764.2 370.9L765.1 364.9L766.1 359L767 353.1L768 347.1L768.9 341.2L769.8 335.3L770.7 329.3L771.6 323.4L772.4 317.5L773.3 311.5L774.1 305.6L775 299.6L775.8 293.7L776.6 287.7L777.5 281.8L778.3 275.8L779.2 269.9L780 264L780.9 258L781.8 252.1L782.6 246.1L783.6 240.2L784.5 234.3L785.6 228.4L786.7 222.5L787.8 216.6L789 210.7L790.2 204.8L791.5 198.9L792.7 193.1L793.9 187.2L795.1 181.3L796.2 175.4L797.3 169.5L798.4 163.6L799.6 157.7L800.9 151.8L802.2 145.9L803.8 140.1L805.5 134.4L807.4 128.7L809.5 123L812 117.5L814.7 112.2L817.8 107.2L821.3 102.4L825.1 97.7L829 93.3L833.1 88.8L837.2 84.3L841.7 79.7L846 75.5L850.2 71.6L854.5 67.8L859.6 64.6L865.5 65.8L869.4 70.1L872.6 75.2L875.7 80L878.8 85.2L881.6 90.8L884 96.4L886.4 102L888.5 107.6L890.4 113.2L892.2 119L893.8 124.8L895.4 130.6L896.9 136.4L898.5 142.2L900.1 147.9L901.8 153.7L903.6 159.4L905.4 165.2L907.1 170.9L908.9 176.7L910.6 182.4L912.2 188.2L913.8 194L915.2 199.8L916.6 205.6L917.9 211.5L919.1 217.4L920.2 223.3L921.4 229.2L922.5 235.1L923.7 241L924.9 246.9L926.2 252.7L927.4 258.6L928.7 264.5L930 270.3L931.3 276.2L932.7 282L934 287.9L935.3 293.8L936.6 299.6L938 305.5L939.3 311.3L940.6 317.2L941.9 323L943.3 328.9L944.6 334.8L945.9 340.6L947.2 346.5L948.5 352.3L949.9 358.2L951.2 364L952.5 369.9L953.8 375.7L955.2 381.6L956.5 387.5L957.8 393.3L959.1 399.2L960.4 405L961.8 410.9L963.1 416.7L964.4 422.6L965.7 428.5L967 434.3L968.3 440.2L969.7 446L971 451.9L972.3 457.8L973.6 463.6L974.9 469.5L976.2 475.3L977.6 481.2L978.9 487L980.2 492.9L981.5 498.8L982.8 504.6L984.1 510.5L985.4 516.3L986.7 522.2L988 528.1L989.4 533.9L990.7 539.8L992 545.6L993.4 551.5L994.7 557.3L996.1 563.2L997.5 569L998.8 574.9L1000.2 580.7L1001.6 586.6L1003 592.4L1004.4 598.2L1005.8 604.1L1007.2 609.9L1008.6 615.7L1010 621.6L1011.4 627.4L1012.8 633.3L1014.1 639.1L1015.4 645L1016.7 650.9L1018 656.7L1019.3 662.6L1020.6 668.5L1021.9 674.3L1023.1 680.2L1024.4 686.1L1025.7 691.9L1027 697.8L1028.3 703.7L1029.6 709.5L1030.9 715.4L1032.3 721.2L1033.7 727.1L1035.1 732.9L1036.6 738.7L1038.1 744.5L1039.6 750.3L1041.1 756.1L1042.7 761.9L1044.3 767.7L1046 773.5L1047.6 779.3L1049.3 785L1051 790.8L1052.7 796.5L1054.5 802.3L1056.3 808L1058 813.8L1059.9 819.5L1061.7 825.2L1063.6 830.9L1065.4 836.6L1067.3 842.3L1069.3 848L1071.2 853.7L1073.2 859.4L1075.2 865L1077.3 870.7L1079.4 876.3L1081.5 881.9L1083.7 887.5L1086 893L1088.3 898.6L1090.7 904.1L1093.1 909.6L1095.6 915L1098.2 920.4L1100.8 925.8L1103.5 931.2L1106.2 936.6L1109 941.9L1111.8 947.2L1114.6 952.5L1117.5 957.8L1120.4 963L1123.4 968.3L1126.3 973.5L1129.3 978.8L1132.3 984L1135.4 989.3L1138.4 994.5L1141.5 999.7L1144.7 1004.8L1148 1009.8L1151.4 1014.7L1155 1019.5L1158.8 1024.1L1162.8 1028.5L1167 1032.7L1171.3 1036.8L1175.8 1040.7L1180.5 1044.5L1185.2 1048.3L1189.9 1052L1194.7 1055.7L1199.5 1059.4L1204.2 1063.1L1209 1066.8L1213.8 1070.4L1218.6 1073.9L1223.6 1077.3L1228.6 1080.6L1233.6 1083.8L1238.8 1086.8L1244 1089.7L1249.3 1092.6L1254.6 1095.4L1259.9 1098.3L1265.2 1101.2L1270.4 1104.2L1275.5 1107.3L1280.6 1110.6L1285.5 1113.9L1290.4 1117.4L1295.2 1121L1300 1124.6L1304.7 1128.4L1309.3 1132.3L1313.8 1136.2L1318.2 1140.2L1322.6 1144.4L1326.9 1148.5L1331.2 1152.7L1335.5 1157L1339.7 1161.2L1343.9 1165.5L1348.2 1169.8L1352.4 1174.1L1356.6 1178.3L1360.8 1182.6L1365.1 1186.9L1369.3 1191.1L1373.5 1195.4L1377.7 1199.7L1382 1203.9L1386.2 1208.2L1390.4 1212.4L1394.7 1216.7L1399 1220.8L1403.3 1225L1407.7 1229.1L1412.1 1233.2L1416.6 1237.2L1421.1 1241.2L1425.6 1245.1L1430.2 1249L1434.8 1252.9L1439.4 1256.7L1444 1260.6L1448.6 1264.4L1453.3 1268.3L1457.9 1272.1L1462.6 1275.9L1467.2 1279.7L1471.9 1283.4L1476.7 1287.1L1481.4 1290.8L1486.2 1294.4L1491.1 1297.9L1496 1301.4L1500.9 1304.8L1505.9 1308.1L1510.9 1311.4L1516 1314.6L1521.2 1317.7L1526.4 1320.8L1531.6 1323.7L1536.9 1326.6L1542.2 1329.4L1547.6 1332.1L1553 1334.6L1558.4 1337.1L1563.9 1339.5L1569.5 1341.8L1575.1 1344L1580.7 1346.2L1586.3 1348.2L1592 1350.3L1597.7 1352.2L1603.4 1354.1L1609.1 1355.9L1614.8 1357.7L1620.6 1359.4L1626.3 1361.1L1632.1 1362.8L1637.9 1364.4L1643.7 1366L1649.5 1367.5L1655.3 1369L1661.1 1370.5L1667 1372L1672.8 1373.4L1678.6 1374.9L1684.5 1376.2L1690.3 1377.6L1696.2 1378.9L1702.1 1380.1L1707.9 1381.3L1713.8 1382.5L1719.7 1383.6L1725.6 1384.7L1731.5 1385.8L1737.5 1386.8L1743.4 1387.9L1749.3 1388.9L1755.2 1389.9L1761.1 1390.9L1767.1 1391.9L1773 1392.8L1778.9 1393.8L1784.8 1394.7L1790.8 1395.6L1796.7 1396.5L1802.7 1397.4L1808.6 1398.3L1814.5 1399.2L1820.5 1400.1L1826.4 1400.9L1832.4 1401.7L1838.3 1402.5L1844.3 1403.3L1850.2 1404L1856.2 1404.7L1862.2 1405.4L1868.1 1406L1874.1 1406.7L1880.1 1407.3L1886 1407.8L1892 1408.4L1898 1408.9L1904 1409.4"/>
</g>
<text x="191.5" y="1459.2" font-size="74.8" text-anchor="end" textLength="39.9" lengthAdjust="spacingAndGlyphs">0</text>
<text x="191.5" y="1033.5" font-size="74.8" text-anchor="end" textLength="39.9" lengthAdjust="spacingAndGlyphs">2</text>
<text x="191.5" y="607.7" font-size="74.8" text-anchor="end" textLength="39.9" lengthAdjust="spacingAndGlyphs">4</text>
<text x="191.5" y="182" font-size="74.8" text-anchor="end" textLength="39.9" lengthAdjust="spacingAndGlyphs">6</text>
<text x="245.4" y="1547.8" font-size="74.8" text-anchor="middle" textLength="119.6" lengthAdjust="spacingAndGlyphs">500</text>
<text x="1074.7" y="1547.8" font-size="74.8" text-anchor="middle" textLength="119.6" lengthAdjust="spacingAndGlyphs">600</text>
<text x="1903.9" y="1547.8" font-size="74.8" text-anchor="middle" textLength="119.6" lengthAdjust="spacingAndGlyphs">700</text>
<text class="b" x="1073.3" y="1651.2" font-size="84.5" text-anchor="middle">Wavelength (nm)</text>
<text class="b" transform="translate(107.3 1450) rotate(-90)" font-size="84.35">Relative fluorecence intensity x 10<tspan font-size="58" dy="-35">5</tspan></text>
<text class="b" x="305" y="261.6" font-size="71.7" textLength="136.3" lengthAdjust="spacingAndGlyphs">10.0</text>
<text class="b" x="463.4" y="261.6" font-size="73.3">µg L</text>
<text transform="translate(619.5 225) scale(1.45 1)" font-size="48">-</text>
<text class="b" x="637" y="227.1" font-size="72">1</text>
<text class="b" x="323.5" y="637" font-size="76" textLength="100.4" lengthAdjust="spacingAndGlyphs">0.2</text>
<text class="b" x="446" y="640.8" font-size="72.6">µg L</text>
<text transform="translate(602.6 603.8) scale(1.45 1)" font-size="48">-</text>
<text class="b" x="620" y="606.4" font-size="72">1</text>
<line x1="427.4" y1="531.6" x2="427.4" y2="350" stroke="#000" stroke-width="5.8"/>
<path d="M427.4 322.8L450.3 375.2L427.4 357.5L404.2 375.2Z" fill="#000"/>
<g class="ax" stroke-width="4.2">
<rect x="1134.7" y="84.3" width="751.8999999999999" height="624.3000000000001"/>
</g>
<g class="ax" stroke-width="3.2">
<line x1="1123.7" y1="708.6" x2="1134.7" y2="708.6"/>
<line x1="1123.7" y1="530.2" x2="1134.7" y2="530.2"/>
<line x1="1123.7" y1="351.8" x2="1134.7" y2="351.8"/>
<line x1="1123.7" y1="173.4" x2="1134.7" y2="173.4"/>
<line x1="1134.5" y1="708.6" x2="1134.5" y2="719.8"/>
<line x1="1283.4" y1="708.6" x2="1283.4" y2="719.8"/>
<line x1="1432.2" y1="708.6" x2="1432.2" y2="719.8"/>
<line x1="1581.1" y1="708.6" x2="1581.1" y2="719.8"/>
<line x1="1729.9" y1="708.6" x2="1729.9" y2="719.8"/>
<line x1="1878.8" y1="708.6" x2="1878.8" y2="719.8"/>
</g>
<circle cx="1208.7" cy="651.5" r="5.6" fill="#000"/>
<circle cx="1283.2" cy="602.4" r="5.6" fill="#000"/>
<circle cx="1357.7" cy="532.0" r="5.6" fill="#000"/>
<circle cx="1432.7" cy="492.5" r="5.6" fill="#000"/>
<circle cx="1506.3" cy="423.8" r="5.6" fill="#000"/>
<circle cx="1729.9" cy="270.2" r="5.6" fill="#000"/>
<circle cx="1878.8" cy="156.9" r="5.6" fill="#000"/>
<line x1="1134.7" y1="706.9" x2="1880" y2="155.7" stroke="#ff0000" stroke-width="3.2"/>
<text x="1116.5" y="719.8" font-size="33.6" text-anchor="end">0</text>
<text x="1116.5" y="541.4" font-size="33.6" text-anchor="end">2</text>
<text x="1116.5" y="363" font-size="33.6" text-anchor="end">4</text>
<text x="1116.5" y="184.6" font-size="33.6" text-anchor="end">6</text>
<text x="1134.8" y="753.4" font-size="33.6" text-anchor="middle">0</text>
<text x="1283.7" y="753.4" font-size="33.6" text-anchor="middle">2</text>
<text x="1432.5" y="753.4" font-size="33.6" text-anchor="middle">4</text>
<text x="1581.4" y="753.4" font-size="33.6" text-anchor="middle">6</text>
<text x="1730.2" y="753.4" font-size="33.6" text-anchor="middle">8</text>
<text x="1879.1" y="753.4" font-size="33.6" text-anchor="middle">10</text>
<text class="b" x="1393.4" y="798.8" font-size="37.9">c (RhB), µg L</text>
<text x="1628.6" y="786" font-size="22">-</text>
<text class="b" x="1637.6" y="784.5" font-size="25.5">1</text>
<text class="b" transform="translate(1075 692.6) rotate(-90)" font-size="34.3">Relative fluorescence intensity x 10<tspan font-size="21" dy="-15.5">5</tspan></text>
</svg>
</body></html>
